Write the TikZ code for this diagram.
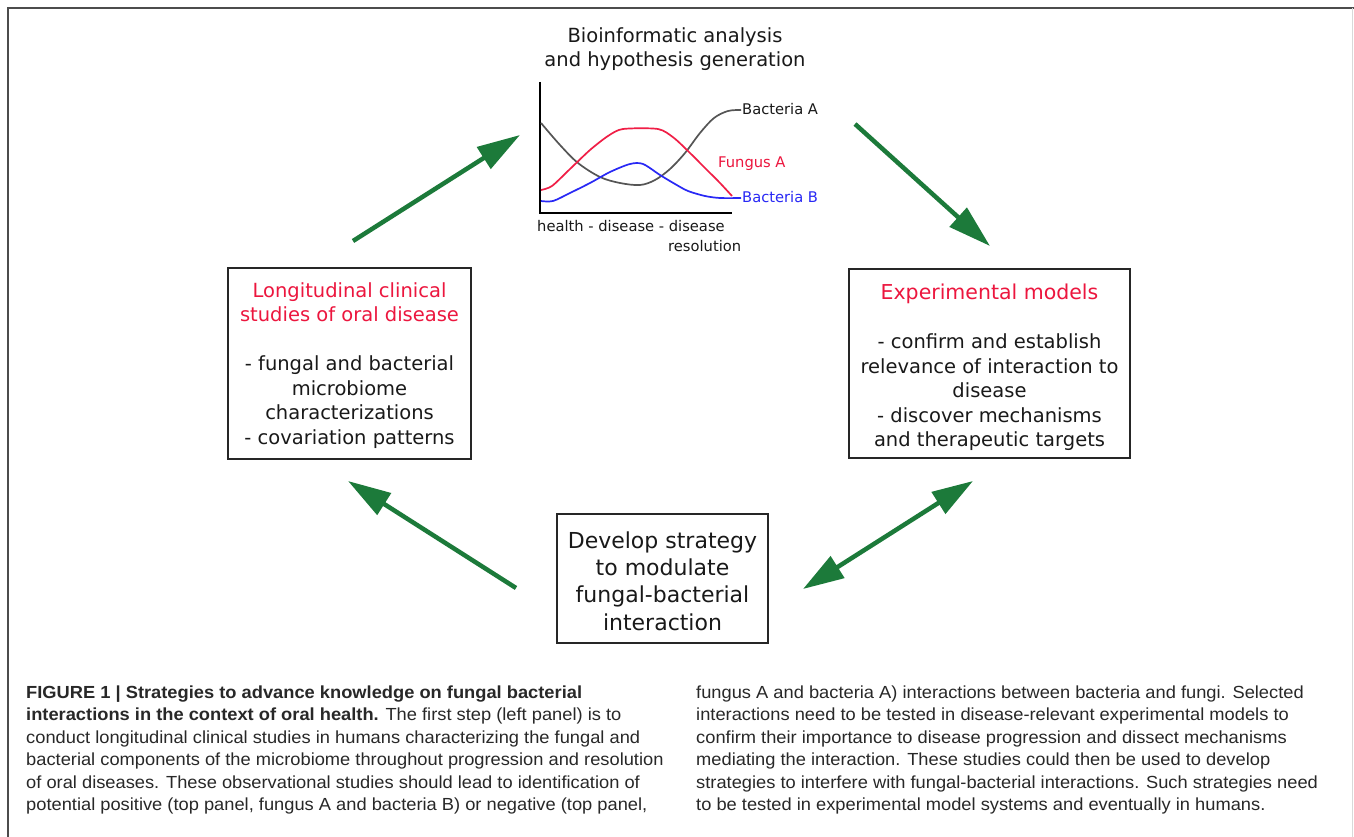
\documentclass[tikz,border=0pt]{standalone}
\usepackage{fontspec}
\setmainfont{Liberation Sans}
\newfontfamily\dv{DejaVu Sans}
\newfontfamily\capfont[FakeStretch=1.045]{Liberation Sans}
\usetikzlibrary{arrows.meta}
\definecolor{arrgreen}{RGB}{28,122,58}
\definecolor{txtred}{RGB}{236,22,62}
\definecolor{curvered}{RGB}{240,30,70}
\definecolor{curveblue}{RGB}{40,40,245}
\definecolor{curvegray}{RGB}{85,85,85}
\definecolor{txtdark}{RGB}{25,25,25}
\definecolor{captxt}{RGB}{40,40,40}
\begin{document}
\begin{tikzpicture}[x=1pt,y=-1pt,
  flowbox/.style={draw=black!85, line width=1.4pt, inner sep=0pt},
  boxtext/.style={align=center, text=txtdark, inner sep=0pt, font=\dv\fontsize{19.5}{24.5}\selectfont},
  bigtext/.style={align=center, text=txtdark, inner sep=0pt, font=\dv\fontsize{22}{27.3}\selectfont},
  charttext/.style={inner sep=0pt, font=\dv\fontsize{14.7}{17}\selectfont},
  capt/.style={anchor=base west, inner sep=0pt, text=captxt, font=\capfont\fontsize{17.5}{20}\selectfont},
  flowarrow/.style={draw=arrgreen, line width=4.5pt, -{Triangle[length=43pt,width=25pt]}},
  twoarrow/.style={draw=arrgreen, line width=4.5pt, {Triangle[length=41pt,width=25pt]}-{Triangle[length=41pt,width=25pt]}},
  curve/.style={line width=1.7pt, line join=round}
]
\useasboundingbox (0,0) rectangle (1354,837);
\fill[white] (0,0) rectangle (1354,837);
% outer frame
\draw[black!70, line width=2pt] (8,837) -- (8,8) -- (1354,8);
\draw[black!15, line width=1pt] (1352,8) -- (1352,837);

% chart title
\node[boxtext, font=\dv\fontsize{19.5}{24}\selectfont] (title) at (675,49) {Bioinformatic analysis\\and hypothesis generation};

% chart axes
\coordinate (ytop) at (540,82);
\coordinate (orig) at (540,213);
\coordinate (xend) at (732,213);
\draw[black, line width=2pt] (ytop) -- (orig) -- (xend);

% curves
\draw[curve, curvegray] plot[smooth, tension=0.55] coordinates {(541,123) (560,145) (578,163) (600,177) (620,183) (640,185) (655,180) (670,169) (685,153) (700,133) (714,118) (728,111) (741,110)};
\draw[curve, curvered] plot[smooth, tension=0.45] coordinates {(541,190) (552,186) (570,169) (590,150) (608,136) (623,129) (658,129) (674,138) (690,153) (705,168) (720,183) (732,196)};
\draw[curve, curveblue] plot[smooth, tension=0.5] coordinates {(541,201) (553,201) (570,193) (590,183) (610,172) (630,164) (643,164) (660,175) (675,184) (688,191) (705,196) (720,198) (741,198)};

% chart labels
\node[charttext, anchor=base west, text=txtdark] (lba) at (742,115) {Bacteria A};
\node[charttext, anchor=base west, text=txtred] (lfa) at (718,168) {Fungus A};
\node[charttext, anchor=base west, text=curveblue] (lbb) at (742,203) {Bacteria B};
\node[charttext, anchor=base west, text=txtdark] (xl1) at (537,231) {health - disease - disease};
\node[charttext, anchor=base west, text=txtdark] (xl2) at (668,251) {resolution};

% boxes
\node[flowbox, minimum width=243pt, minimum height=191pt] (left) at (349.5,363.5) {};
\node[boxtext] (lefttext) at (349.5,365.5) {\textcolor{txtred}{Longitudinal clinical}\\\textcolor{txtred}{studies of oral disease}\\[24.5pt]- fungal and bacterial\\microbiome\\characterizations\\- covariation patterns};

\node[flowbox, minimum width=281pt, minimum height=189pt] (right) at (989.5,363.5) {};
\node[boxtext] (righttext) at (989.5,367.5) {\textcolor{txtred}{\fontsize{20.5}{24.5}\selectfont Experimental models}\\[24.5pt]- confirm and establish\\relevance of interaction to\\disease\\- discover mechanisms\\and therapeutic targets};

\node[flowbox, minimum width=211pt, minimum height=129pt] (bottom) at (662.5,578.5) {};
\node[bigtext] (bottomtext) at (662.5,581) {Develop strategy\\to modulate\\fungal-bacterial\\interaction};

% arrows
\coordinate (a1s) at (353,241); \coordinate (a1e) at (520,135);
\coordinate (a2s) at (855,124); \coordinate (a2e) at (990,246);
\coordinate (a3s) at (973,481); \coordinate (a3e) at (803,589);
\coordinate (a4s) at (516,588); \coordinate (a4e) at (348,481);
\draw[flowarrow] (a1s) -- (a1e);
\draw[flowarrow] (a2s) -- (a2e);
\draw[twoarrow] (a3s) -- (a3e);
\draw[flowarrow] (a4s) -- (a4e);

% caption
\node[capt] (c1) at (26,698) {\textbf{FIGURE 1 | Strategies to advance knowledge on fungal bacterial}};
\node[capt] (c2) at (26,720.5) {\textbf{interactions in the context of oral health.} The first step (left panel) is to};
\node[capt] (c3) at (26,743) {conduct longitudinal clinical studies in humans characterizing the fungal and};
\node[capt] (c4) at (26,765.5) {bacterial components of the microbiome throughout progression and resolution};
\node[capt] (c5) at (26,788) {of oral diseases. These observational studies should lead to identification of};
\node[capt] (c6) at (26,810.5) {potential positive (top panel, fungus A and bacteria B) or negative (top panel,};
\node[capt] (d1) at (696,698) {fungus A and bacteria A) interactions between bacteria and fungi. Selected};
\node[capt] (d2) at (696,720.5) {interactions need to be tested in disease-relevant experimental models to};
\node[capt] (d3) at (696,743) {confirm their importance to disease progression and dissect mechanisms};
\node[capt] (d4) at (696,765.5) {mediating the interaction. These studies could then be used to develop};
\node[capt] (d5) at (696,788) {strategies to interfere with fungal-bacterial interactions. Such strategies need};
\node[capt] (d6) at (696,810.5) {to be tested in experimental model systems and eventually in humans.};
\end{tikzpicture}
\end{document}
